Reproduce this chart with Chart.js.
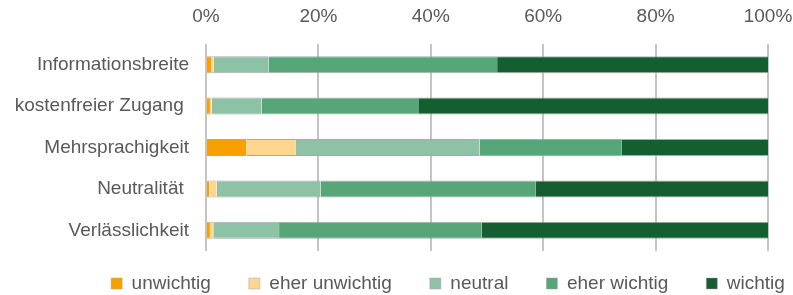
<!DOCTYPE html>
<html>
<head>
<meta charset="utf-8">
<script src="https://cdn.jsdelivr.net/npm/chart.js@4"></script>
<style>
  html, body { margin: 0; padding: 0; background: #fff; }
  #wrap { width: 793px; height: 295px; }
</style>
</head>
<body>
<div id="wrap"><canvas id="myChart"></canvas></div>
<script>
var categories = ['Informationsbreite', 'kostenfreier Zugang ', 'Mehrsprachigkeit', 'Neutralität ', 'Verlässlichkeit'];
var seriesNames = ['unwichtig', 'eher unwichtig', 'neutral', 'eher wichtig', 'wichtig'];
var unwichtig = [1.0, 0.7, 7.2, 0.6, 0.7];
var eherUnwichtig = [0.4, 0.3, 8.8, 1.3, 0.6];
var neutral = [9.7, 8.9, 32.7, 18.5, 11.7];
var eherWichtig = [40.7, 28.0, 25.3, 38.2, 36.0];
var wichtig = [48.2, 62.1, 26.0, 41.4, 51.0];
var tickValues = [0, 20, 40, 60, 80, 100];

var colors = ['#F7A000', '#FFD68F', '#8EC2A6', '#57A67A', '#155E2F'];
var series = [unwichtig, eherUnwichtig, neutral, eherWichtig, wichtig];

Chart.defaults.font.family = "'Liberation Sans', Arial, sans-serif";
Chart.defaults.font.size = 19;
Chart.defaults.color = '#595959';

// legend sits lower, wider spaced and centred at x=448 like the original
var legendShift = {
  id: 'legendShift',
  afterInit: function (chart) {
    var lg = chart.legend;
    var fit = lg.fit;
    lg.fit = function () {
      var mw = this.maxWidth;
      this.maxWidth = 2000; // keep all five items on one row
      fit.call(this);
      this.maxWidth = mw;
      this.width = Math.min(this.width, mw);
      this.height = 44;
    };
    var draw = lg.draw;
    lg.draw = function () {
      var t = this.top, l = this.left, r = this.right;
      this.top -= 15;
      this.left = 448 - 500;
      this.right = 448 + 500;
      draw.call(this);
      this.top = t;
      this.left = l;
      this.right = r;
    };
  }
};

var ctx = document.getElementById('myChart').getContext('2d');
var myChart = new Chart(ctx, {
  type: 'bar',
  data: {
    labels: categories,
    datasets: series.map(function (d, i) {
      return {
        label: seriesNames[i],
        data: d,
        backgroundColor: colors[i],
        borderColor: 'rgba(160,160,160,0.9)',
        borderWidth: { top: 1, bottom: 1, left: 0, right: 0 },
        borderSkipped: false,
        categoryPercentage: 1,
        barPercentage: 0.41
      };
    })
  },
  plugins: [legendShift],
  options: {
    indexAxis: 'y',
    responsive: true,
    maintainAspectRatio: false,
    animation: false,
    layout: { padding: 0 },
    plugins: {
      legend: {
        position: 'bottom',
        labels: { boxWidth: 11, boxHeight: 11, padding: 38, color: '#595959' }
      },
      tooltip: { enabled: false }
    },
    scales: {
      x: {
        position: 'top',
        stacked: true,
        min: 0,
        max: 100,
        afterBuildTicks: function (s) { s.ticks = tickValues.map(function (v) { return { value: v }; }); },
        afterFit: function (s) { s.height = 44; s.paddingLeft = 0; s.paddingRight = 25; },
        ticks: { padding: 16, callback: function (v) { return v + '%'; } },
        grid: { color: '#c4c4c4', lineWidth: 2, drawTicks: false },
        border: { display: false }
      },
      y: {
        stacked: true,
        afterFit: function (s) { s.width = 206; },
        ticks: { padding: 17 },
        grid: { display: false, drawTicks: false },
        border: { display: false }
      }
    }
  }
});
</script>
</body>
</html>
